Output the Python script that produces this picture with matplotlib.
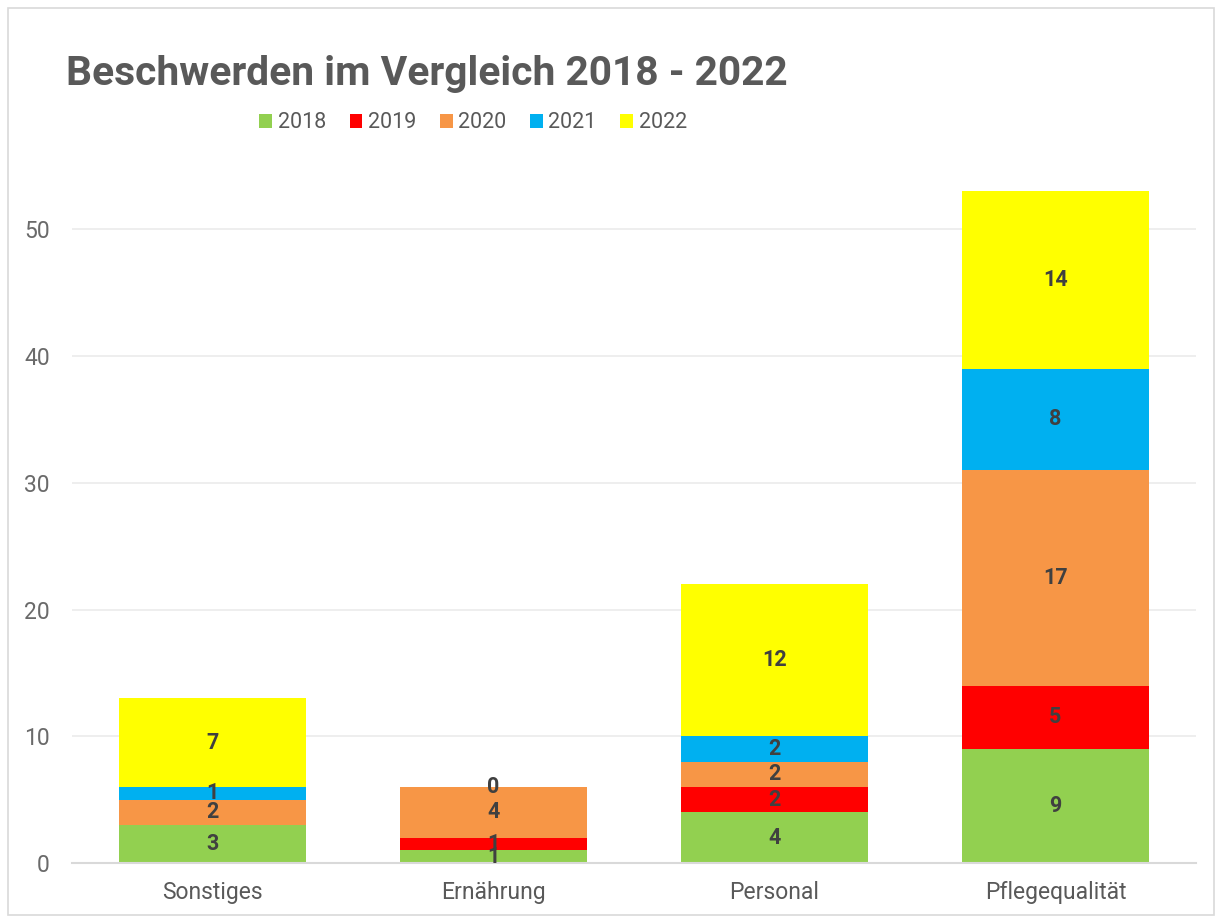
import numpy as np
import matplotlib.pyplot as plt
from matplotlib.patches import Rectangle

plt.rcParams['font.family'] = ['Roboto', 'DejaVu Sans']

# --- Data ---
categories = ['Sonstiges', 'Ernährung', 'Personal', 'Pflegequalität']
years = ['2018', '2019', '2020', '2021', '2022']
v2018 = [3, 1, 4, 9]
v2019 = [np.nan, 1, 2, 5]
v2020 = [2, 4, 2, 17]
v2021 = [1, np.nan, 2, 8]
v2022 = [7, 0, 12, 14]
series = [v2018, v2019, v2020, v2021, v2022]
colors = ['#92d050', '#ff0000', '#f79646', '#00b0f0', '#ffff00']

fig = plt.figure(figsize=(12.2, 9.17), dpi=100)
ax = fig.add_axes([72 / 1220, 1 - 863 / 917, 1124 / 1220, (863 - 166) / 917])

x = np.arange(len(categories))
bottom = np.zeros(len(categories))
for name, vals, col in zip(years, series, colors):
    v = np.array(vals, dtype=float)
    h = np.nan_to_num(v)
    ax.bar(x, h, 0.667, bottom=bottom, color=col, label=name, zorder=2)
    for xi, b, val in zip(x, bottom, v):
        if not np.isnan(val):
            ax.text(xi, b + val / 2, f'{int(val)}', ha='center', va='center',
                    fontsize=15.5, fontweight='bold', color='#404040', zorder=3)
    bottom += h

ax.set_xlim(-0.5, 3.5)
ax.set_ylim(0, 55)
ax.set_yticks(range(0, 51, 10))
ax.set_xticks(x)
ax.set_xticklabels(categories)
ax.grid(axis='y', color='#ebebeb', lw=1.2, zorder=0)
for s in ['top', 'right', 'left']:
    ax.spines[s].set_visible(False)
ax.spines['bottom'].set_color('#d9d9d9')
ax.spines['bottom'].set_linewidth(1.5)
ax.tick_params(axis='both', length=0, labelsize=16.5, colors='#595959')
ax.tick_params(axis='x', pad=13)
ax.tick_params(axis='y', pad=16, colors='#6a6a6a')

fig.text(66 / 1220, 1 - 74 / 917, 'Beschwerden im Vergleich 2018 - 2022',
         fontsize=29.3, fontweight='bold', color='#595959', va='center', ha='left')

fig.legend(loc='center', bbox_to_anchor=(473 / 1220, 1 - 123 / 917), ncol=5,
           frameon=False, fontsize=15.5, labelcolor='#595959',
           handlelength=0.6, handleheight=0.6, handletextpad=0.25, columnspacing=1.1)

fig.patches.append(Rectangle((8 / 1220, 0.002), 1 - 14 / 1220, 1 - 10 / 917,
                             transform=fig.transFigure, fill=False,
                             edgecolor='#d9d9d9', lw=1.2))

fig.savefig('out.png', dpi=100, facecolor='white')
